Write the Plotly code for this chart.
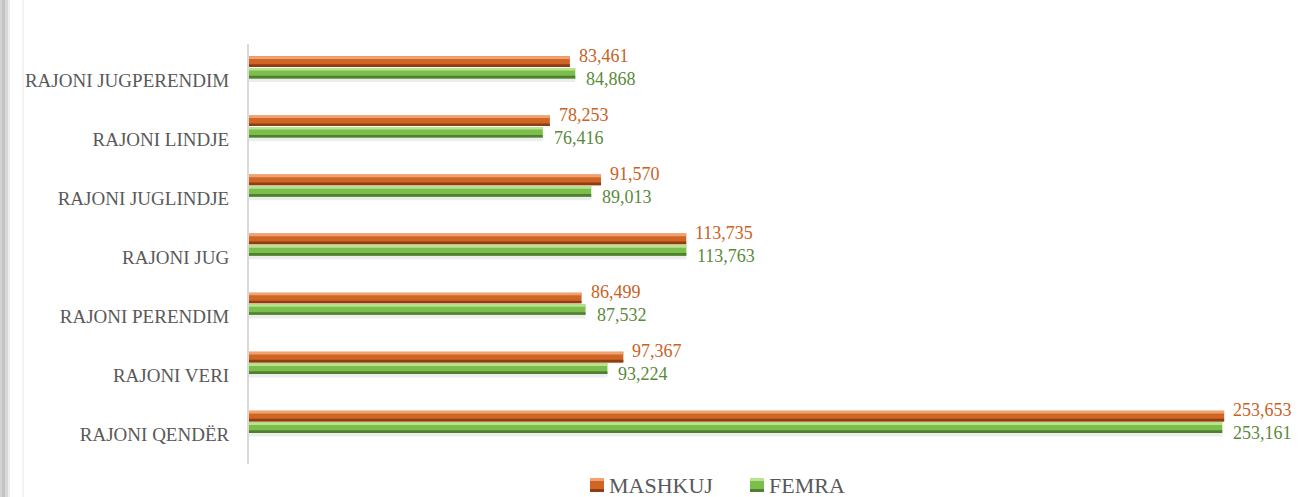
import plotly.graph_objects as go

categories = ["RAJONI JUGPERENDIM", "RAJONI LINDJE", "RAJONI JUGLINDJE", "RAJONI JUG",
              "RAJONI PERENDIM", "RAJONI VERI", "RAJONI QENDËR"]
mashkuj = [83461, 78253, 91570, 113735, 86499, 97367, 253653]
femra = [84868, 76416, 89013, 113763, 87532, 93224, 253161]
series_names = ["MASHKUJ", "FEMRA"]

W, H = 1302, 497
ML, MR, MT, MB = 249, 20, 44, 33
PW, PH = W - ML - MR, H - MT - MB
XMAX = 268700

def px_x(p):
    return (p - ML) / PW

def px_y(p):
    return (H - MB - p) / PH

FONT = "Liberation Serif, Times New Roman, serif"
ORANGE = "#CF6625"
ORANGE_HI = "#F2A271"
ORANGE_LO = "#8E3E12"
GREEN = "#7BBE4C"
GREEN_HI = "#B9E48F"
GREEN_LO = "#4F7F30"
ORANGE_TXT = "#C9621E"
GREEN_TXT = "#5A8A3A"

BW = 0.18
OFF_O = 0.22
OFF_G = 0.025
STRIPE = 0.045

fig = go.Figure()

def add_bar(vals, color, offset, width, name=""):
    fig.add_trace(go.Bar(
        x=vals, y=categories, orientation="h",
        marker=dict(color=color, line=dict(width=0)),
        offset=offset, width=width,
        name=name, showlegend=False,
        hoverinfo="skip",
    ))

# soft shadow under the pair
add_bar(femra, "rgba(0,0,0,0.07)", OFF_G - 0.06, 0.07)
# main bars
add_bar(mashkuj, ORANGE, OFF_O, BW, series_names[0])
add_bar(femra, GREEN, OFF_G, BW, series_names[1])
# highlight / shade stripes
add_bar(mashkuj, ORANGE_HI, OFF_O + BW - STRIPE, STRIPE)
add_bar(mashkuj, ORANGE_LO, OFF_O, STRIPE)
add_bar(femra, GREEN_HI, OFF_G + BW - STRIPE, STRIPE)
add_bar(femra, GREEN_LO, OFF_G, STRIPE)

annotations = []
for c, m, f in zip(categories, mashkuj, femra):
    annotations.append(dict(x=m, y=c, xref="x", yref="y", text=f"{m:,}",
                            showarrow=False, xanchor="left", yanchor="middle",
                            xshift=7, yshift=24,
                            font=dict(family=FONT, size=18, color=ORANGE_TXT)))
    annotations.append(dict(x=f, y=c, xref="x", yref="y", text=f"{f:,}",
                            showarrow=False, xanchor="left", yanchor="middle",
                            xshift=9, yshift=1,
                            font=dict(family=FONT, size=18, color=GREEN_TXT)))

shapes = []
# left frame strip
for x0, x1, col in [(0, 2, "#D4D4D4"), (2, 5, "#C4C4C4"), (5, 8, "#D8D8D8"), (8, 10, "#EEEEEE")]:
    shapes.append(dict(type="rect", xref="paper", yref="paper",
                       x0=px_x(x0), x1=px_x(x1), y0=px_y(H), y1=px_y(0),
                       line=dict(width=0), fillcolor=col, layer="below"))
shapes.append(dict(type="line", xref="paper", yref="paper",
                   x0=px_x(23), x1=px_x(23), y0=px_y(H), y1=px_y(0),
                   line=dict(color="#E6E6E6", width=1), layer="below"))

# legend (drawn as markers + text so it does not push the margins)
legend_items = [(series_names[0], ORANGE, ORANGE_HI, ORANGE_LO, 590),
                (series_names[1], GREEN, GREEN_HI, GREEN_LO, 750)]
LY = 485
for name, col, hi, lo, lx in legend_items:
    shapes.append(dict(type="rect", xref="paper", yref="paper",
                       x0=px_x(lx), x1=px_x(lx + 14), y0=px_y(LY + 7), y1=px_y(LY - 7),
                       line=dict(width=0), fillcolor=col))
    shapes.append(dict(type="rect", xref="paper", yref="paper",
                       x0=px_x(lx), x1=px_x(lx + 14), y0=px_y(LY - 4), y1=px_y(LY - 7),
                       line=dict(width=0), fillcolor=hi))
    shapes.append(dict(type="rect", xref="paper", yref="paper",
                       x0=px_x(lx), x1=px_x(lx + 14), y0=px_y(LY + 7), y1=px_y(LY + 4),
                       line=dict(width=0), fillcolor=lo))
    annotations.append(dict(x=px_x(lx + 17), y=px_y(LY), xref="paper", yref="paper",
                            text=name, showarrow=False, xanchor="left", yanchor="middle",
                            font=dict(family=FONT, size=22, color="#595959")))

fig.update_layout(
    width=W, height=H, autosize=False,
    margin=dict(l=ML, r=MR, t=MT, b=MB, pad=0),
    paper_bgcolor="white", plot_bgcolor="white",
    barmode="overlay",
    showlegend=False,
    xaxis=dict(range=[0, XMAX], visible=False, showgrid=False, zeroline=False),
    yaxis=dict(categoryorder="array", categoryarray=categories[::-1],
               showline=True, linecolor="#D9D9D9", linewidth=2,
               ticks="", showgrid=False, zeroline=False,
               ticklabelstandoff=14,
               tickfont=dict(family=FONT, size=19, color="#595959")),
    annotations=annotations,
    shapes=shapes,
    hovermode=False,
)

fig.write_html(
    "out.html",
    config={"responsive": False, "displayModeBar": False},
    post_script="document.body.style.margin='0';document.body.style.overflow='hidden';",
)
